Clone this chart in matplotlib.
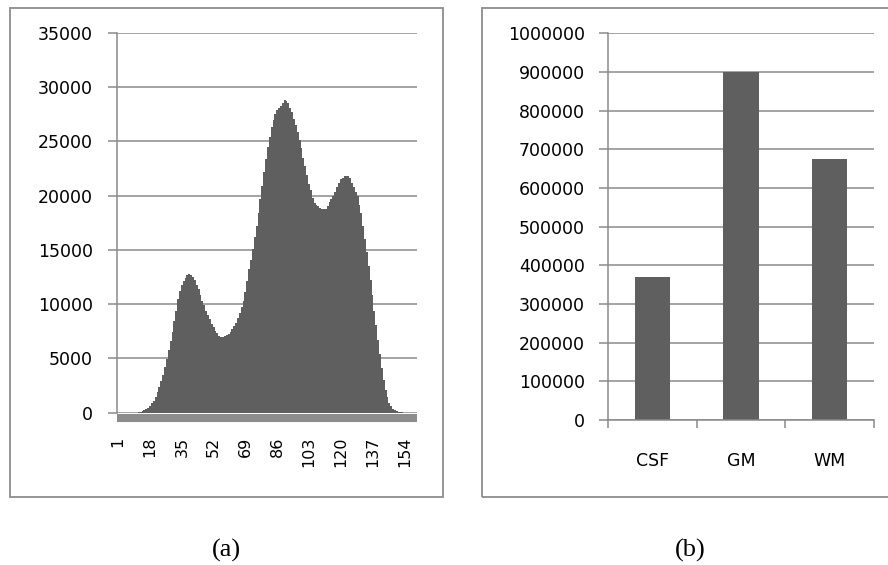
#!/usr/bin/env python3
"""
Intensity histogram (a) and tissue class volumes (b)
"""

import numpy as np
import matplotlib
matplotlib.use('Agg')
import matplotlib.pyplot as plt
from matplotlib.patches import Rectangle

# --- data ---
bins = np.arange(1, 161)
counts = [
    0, 0, 0, 0, 0, 0, 0, 0, 0, 0, 0,
    20, 60, 120, 190, 300, 420, 600, 850, 1100,
    1450, 1850, 2350, 2900, 3500, 4200, 4950, 5750, 6600, 7450,
    8400, 9400, 10500, 11200, 11800, 12150, 12400, 12650, 12800, 12700,
    12500, 12200, 11800, 11350, 10800, 10300, 9900, 9400, 9000, 8600,
    8200, 7850, 7550, 7300, 7100, 7000, 6980, 7050, 7150, 7250,
    7450, 7700, 7950, 8300, 8750, 9200, 9700, 10300, 11100, 12100,
    13200, 14100, 15100, 16200, 17200, 18400, 19700, 20900, 22200, 23400,
    24500, 25400, 26300, 27000, 27500, 27900, 28100, 28300, 28550, 28850,
    28750, 28500, 28100, 27700, 27100, 26500, 25900, 25100, 24400, 23500,
    22700, 21900, 21100, 20500, 19800, 19350, 19150, 19000, 18900, 18800,
    18750, 18800, 19050, 19400, 19700, 20000, 20350, 20800, 21200, 21500,
    21650, 21800, 21850, 21800, 21600, 21200, 20800, 20300, 20000, 19100,
    18400, 17200, 16000, 14800, 13500, 12200, 10800, 9400, 8100, 6700,
    5400, 4100, 3000, 2100, 1400, 900, 580, 350, 230, 140,
    80, 40, 15, 0, 0, 0, 0, 0, 0, 0,
]
hist_ticks = [1, 18, 35, 52, 69, 86, 103, 120, 137, 154]
hist_yticks = [0, 5000, 10000, 15000, 20000, 25000, 30000, 35000]

tissues = ['CSF', 'GM', 'WM']
volumes = [370000, 900000, 675000]
vol_yticks = list(range(0, 1000001, 100000))

BAR = '#5f5f5f'
GRID = '#8a8a8a'
BAND = '#8c8c8c'
W, H = 888, 565


def px_rect(x0, y0, x1, y1):
    """pixel box (top-left origin) -> figure fraction [l, b, w, h]"""
    return [x0 / W, 1 - y1 / H, (x1 - x0) / W, (y1 - y0) / H]


plt.rcParams['font.family'] = 'DejaVu Sans'
fig = plt.figure(figsize=(8.88, 5.65), dpi=100)

# outer chart frames
for x0, y0, x1, y1 in [(10, 8, 443, 497), (482, 8, 892, 497)]:
    l, b, w, h = px_rect(x0, y0, x1, y1)
    fig.add_artist(Rectangle((l, b), w, h, transform=fig.transFigure,
                             fill=False, edgecolor=BAND, linewidth=1.3))

# (a) histogram
ax1 = fig.add_axes(px_rect(117.3, 33, 416.5, 412.5))
ax1.bar(bins, counts, width=1.0, color=BAR, linewidth=0)
ax1.set_xlim(0.5, 160.5)
ax1.set_ylim(0, 35000)
ax1.grid(axis='y', color=GRID, linewidth=1.1)
ax1.set_axisbelow(True)
for s in ['top', 'right']:
    ax1.spines[s].set_visible(False)
ax1.spines['left'].set_color(GRID)
ax1.spines['left'].set_linewidth(1.1)
ax1.spines['bottom'].set_position(('outward', 3.6))
ax1.spines['bottom'].set_color(BAND)
ax1.spines['bottom'].set_linewidth(5.8)
ax1.spines['bottom'].set_capstyle('butt')
ax1.tick_params(axis='y', direction='out', length=6.5, width=1.1, color=GRID,
                pad=11, labelsize=12.5)
ax1.tick_params(axis='x', direction='inout', length=5.8, width=1.2,
                color='white', pad=11, labelsize=11.5, labelrotation=90)
ax1.set_yticks(hist_yticks, [str(v) for v in hist_yticks])
ax1.set_xticks(hist_ticks, [str(t) for t in hist_ticks])

# (b) tissue volumes
ax2 = fig.add_axes(px_rect(608, 33.3, 874, 420))
ax2.bar(range(len(tissues)), volumes, width=0.4, color=BAR, linewidth=0)
ax2.set_xlim(-0.5, 2.5)
ax2.set_ylim(0, 1000000)
ax2.grid(axis='y', color=GRID, linewidth=1.1)
ax2.set_axisbelow(True)
for s in ['top', 'right']:
    ax2.spines[s].set_visible(False)
for s in ['left', 'bottom']:
    ax2.spines[s].set_color(GRID)
    ax2.spines[s].set_linewidth(1.1)
ax2.tick_params(axis='y', direction='out', length=6.5, width=1.1, color=GRID,
                pad=10, labelsize=12.5)
ax2.tick_params(axis='x', which='major', length=0, pad=23, labelsize=12.5)
ax2.tick_params(axis='x', which='minor', direction='out', length=5.8,
                width=1.1, color=GRID)
ax2.set_yticks(vol_yticks, [str(v) for v in vol_yticks])
ax2.set_xticks(range(len(tissues)), tissues)
ax2.set_xticks([-0.5, 0.5, 1.5, 2.5], minor=True)

# panel captions
fig.text(226 / W, 1 - 550 / H, '(a)', family='Liberation Serif', fontsize=19,
         ha='center', va='center')
fig.text(690 / W, 1 - 550 / H, '(b)', family='Liberation Serif', fontsize=19,
         ha='center', va='center')

fig.savefig('out.png', dpi=100)
